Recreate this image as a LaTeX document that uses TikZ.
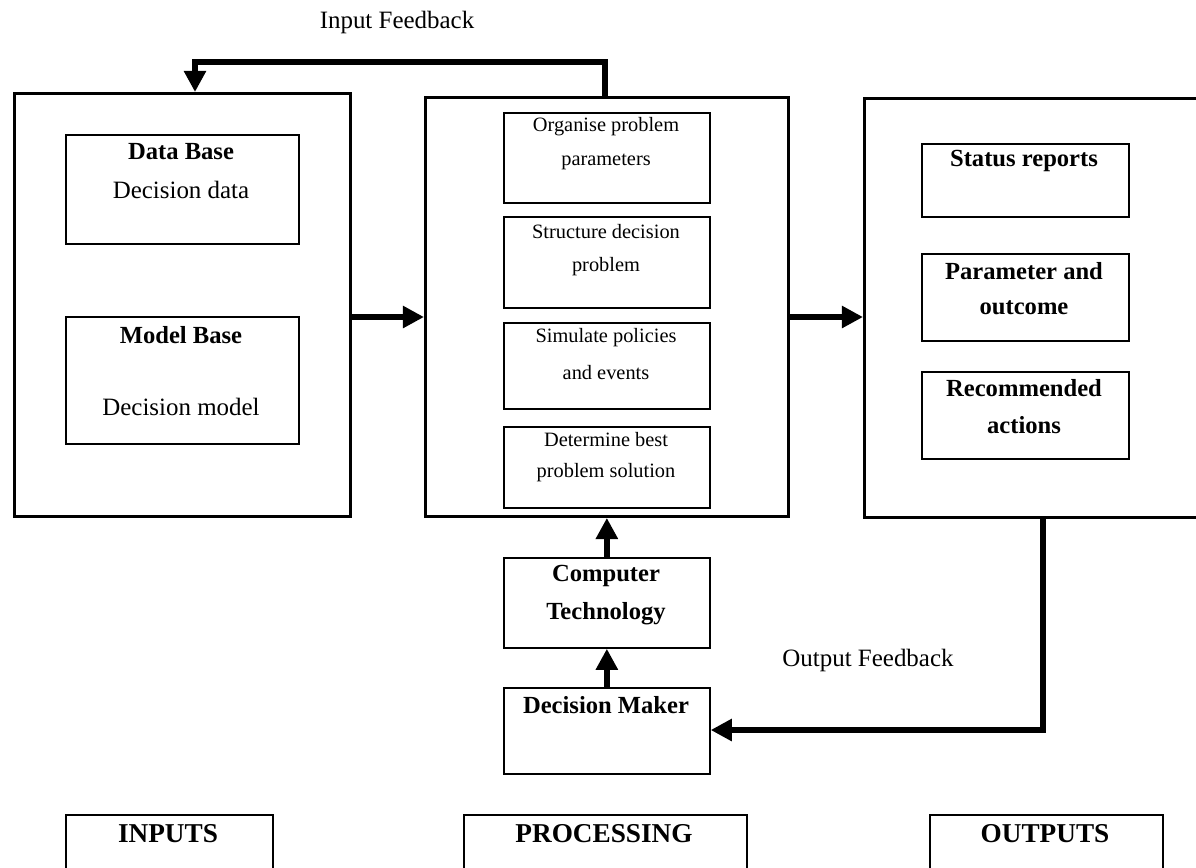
\documentclass[tikz,border=0pt]{standalone}
\usepackage{fontspec}
\setmainfont{Liberation Serif}
\usetikzlibrary{arrows.meta,positioning}

\begin{document}
\begin{tikzpicture}[x=0.02cm, y=-0.02cm,
    outerbox/.style={draw, line width=1.7pt, rectangle, anchor=north west, inner sep=0pt},
    innerbox/.style={draw, line width=1pt, rectangle, anchor=north west, inner sep=0pt},
    arr/.style={-{Triangle[length=12pt, width=12pt]}, line width=3pt},
    txt/.style={font=\fontsize{14.2}{16}\selectfont},
    btxt/.style={font=\fontsize{14}{16}\selectfont\bfseries},
    stxt/.style={font=\fontsize{11.6}{14}\selectfont},
    htxt/.style={font=\fontsize{15.5}{17}\selectfont\bfseries}]
    \useasboundingbox (0,0) rectangle (1196,867);

    % Inputs
    \node[outerbox, minimum width=6.72cm, minimum height=8.46cm] (lbox) at (13,92) {};
    \node[innerbox, minimum width=4.66cm, minimum height=2.18cm] (dbase) at (65,134) {};
    \node[btxt] (dbaset) at (181,152) {Data Base};
    \node[txt] (dbased) at (181,190) {Decision data};
    \node[innerbox, minimum width=4.66cm, minimum height=2.54cm] (mbase) at (65,316) {};
    \node[btxt] (mbaset) at (181,335) {Model Base};
    \node[txt] (mbased) at (181,407) {Decision model};

    % Processing
    \node[outerbox, minimum width=7.26cm, minimum height=8.38cm] (mbox) at (424,96) {};
    \node[innerbox, minimum width=4.12cm, minimum height=1.80cm] (org) at (503,112) {};
    \node[stxt] at (606,127) {Organise problem};
    \node[stxt] at (606,162) {parameters};
    \node[innerbox, minimum width=4.12cm, minimum height=1.82cm] (struc) at (503,216) {};
    \node[stxt] at (606,232) {Structure decision};
    \node[stxt] at (606,267) {problem};
    \node[innerbox, minimum width=4.12cm, minimum height=1.72cm] (sim) at (503,322) {};
    \node[stxt] at (606,338) {Simulate policies};
    \node[stxt] at (606,373) {and events};
    \node[innerbox, minimum width=4.12cm, minimum height=1.62cm] (det) at (503,426) {};
    \node[stxt] at (606,440) {Determine best};
    \node[stxt] at (606,473) {problem solution};

    % Outputs
    \node[outerbox, minimum width=6.70cm, minimum height=8.38cm] (rbox) at (863,97) {};
    \node[innerbox, minimum width=4.14cm, minimum height=1.46cm] (status) at (921,143) {};
    \node[btxt] at (1024,161) {Status reports};
    \node[innerbox, minimum width=4.14cm, minimum height=1.74cm] (param) at (921,253) {};
    \node[btxt] at (1024,271) {Parameter and};
    \node[btxt] at (1024,308) {outcome};
    \node[innerbox, minimum width=4.14cm, minimum height=1.74cm] (recom) at (921,371) {};
    \node[btxt] at (1024,388) {Recommended};
    \node[btxt] at (1024,425) {actions};

    % Support
    \node[innerbox, minimum width=4.12cm, minimum height=1.80cm] (comp) at (503,557) {};
    \node[btxt] at (606,576) {Computer};
    \node[btxt] at (606,614) {Technology};
    \node[innerbox, minimum width=4.12cm, minimum height=1.72cm] (dm) at (503,687) {};
    \node[btxt] at (606,705) {Decision Maker};

    % Headings
    \node[innerbox, minimum width=4.14cm, minimum height=2cm] (inp) at (65,814) {};
    \node[htxt] at (168,834) {INPUTS};
    \node[innerbox, minimum width=5.66cm, minimum height=2cm] (proc) at (463,814) {};
    \node[htxt] at (604,834) {PROCESSING};
    \node[innerbox, minimum width=4.66cm, minimum height=2cm] (outp) at (929,814) {};
    \node[htxt] at (1045,834) {OUTPUTS};

    % Arrows
    \coordinate (flow) at (0,317);
    \draw[arr] (lbox.east |- flow) -- (mbox.west |- flow);
    \draw[arr] (mbox.east |- flow) -- (rbox.west |- flow);
    \draw[arr] (comp.north) -- (mbox.south -| comp.north);
    \draw[arr] (dm.north) -- (comp.south);

    % Feedback
    \coordinate (inR) at (605,62);
    \coordinate (inL) at (195,62);
    \draw[arr] (mbox.north -| inR) -- (inR) -- (inL) -- (lbox.north -| inL);
    \node[txt] (infb) at (397,22) {Input Feedback};
    \coordinate (outC) at (1043,730);
    \draw[arr] (rbox.south -| outC) -- (outC) -- (dm.east |- outC);
    \node[txt] (outfb) at (868,660) {Output Feedback};
\end{tikzpicture}
\end{document}
